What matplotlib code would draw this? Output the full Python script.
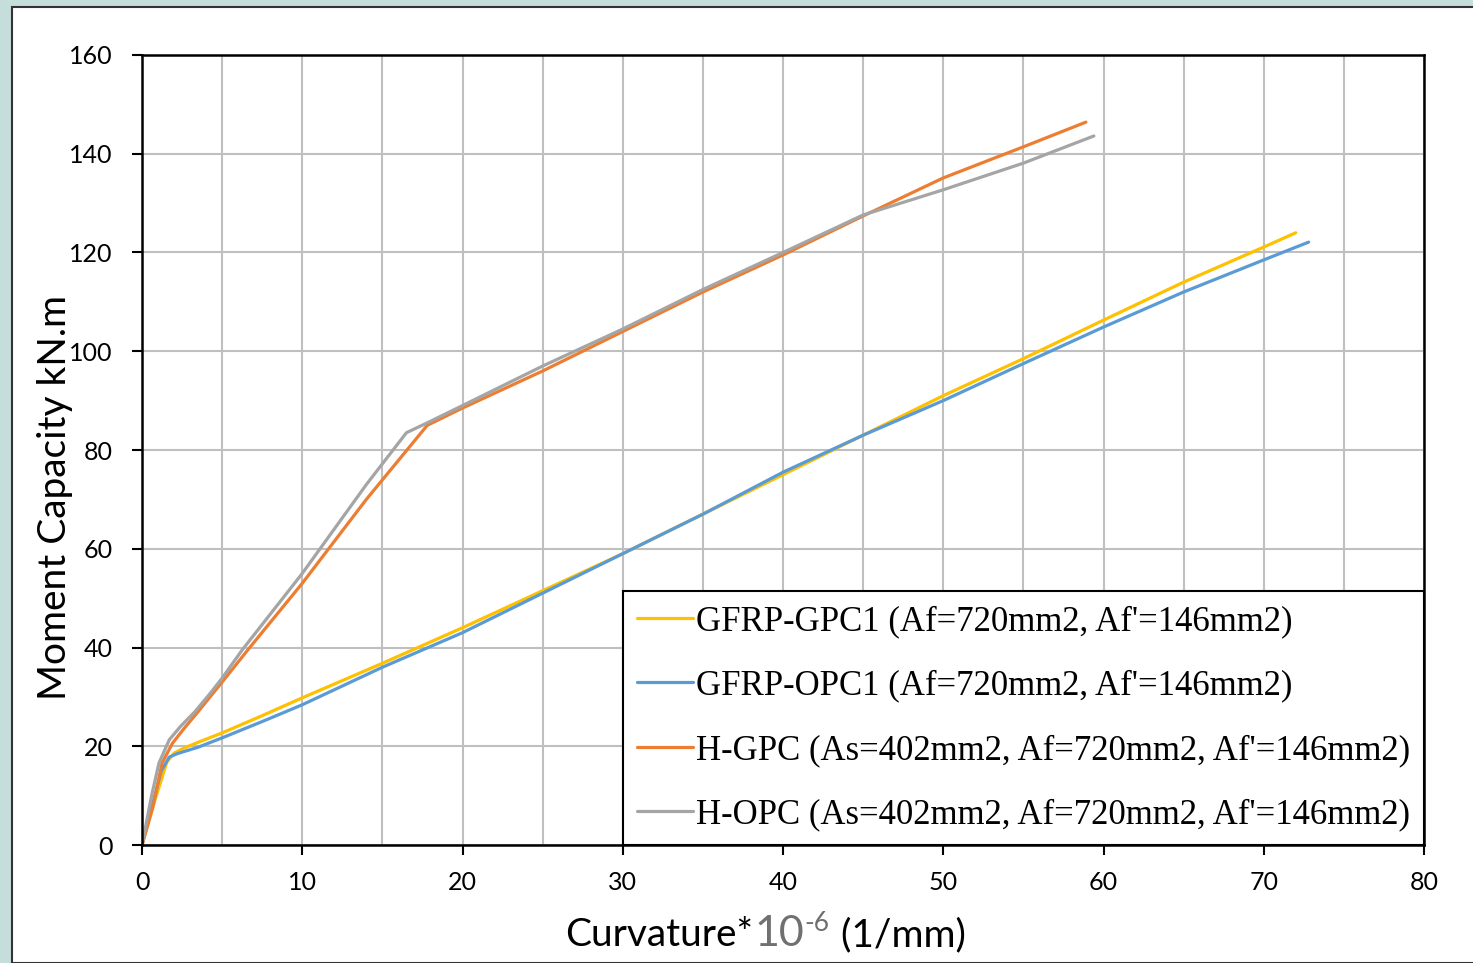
import matplotlib.pyplot as plt
from matplotlib.patches import Rectangle

# curvature (x1e-6 1/mm) vs moment (kN.m)
gpc1_x = [0, 0.8, 1.55, 2.0, 2.6, 3.5, 5, 7.5, 10, 15, 20, 25, 30, 35, 40, 45, 50, 55, 60, 65, 70, 72]
gpc1_y = [0, 9, 16.8, 18.6, 19.6, 20.8, 22.7, 26.2, 29.8, 36.8, 44, 51.5, 59, 67, 75, 83, 91, 98.5, 106.3, 114, 121.1, 124]

opc1_x = [0, 0.8, 1.2, 1.7, 2.2, 3.5, 5, 7.5, 10, 15, 20, 25, 30, 35, 40, 45, 50, 55, 60, 65, 70, 72.8]
opc1_y = [0, 10, 15, 17.8, 18.5, 19.8, 21.7, 25, 28.4, 36, 43, 51, 59, 67, 75.5, 83, 90, 97.5, 104.9, 112, 118.5, 122.1]

hgpc_x = [0, 0.7, 1.25, 1.9, 2.6, 3.5, 5, 6.6, 10, 14, 17.8, 20, 25, 30, 35, 40, 45, 50, 55, 58.9]
hgpc_y = [0, 8, 16.6, 20.6, 23.5, 27, 33, 39.5, 53, 70, 85, 88.5, 96, 104, 112, 119.5, 127.4, 135.1, 141.4, 146.4]

hopc_x = [0, 0.6, 1.06, 1.7, 2.4, 3.3, 4.2, 5, 6.25, 10, 14, 16.5, 17.8, 20, 25, 30, 35, 40, 45, 50, 55, 59.4]
hopc_y = [0, 10, 16.6, 21.3, 24, 27, 30.5, 33.8, 39.5, 55, 73, 83.5, 85.5, 89, 97, 104.5, 112.5, 120, 127.6, 132.7, 138.1, 143.6]

labels = ["GFRP-GPC1 (Af=720mm2, Af'=146mm2)",
          "GFRP-OPC1 (Af=720mm2, Af'=146mm2)",
          "H-GPC (As=402mm2, Af=720mm2, Af'=146mm2)",
          "H-OPC (As=402mm2, Af=720mm2, Af'=146mm2)"]
colors = ['#FFC000', '#5B9BD5', '#ED7D31', '#A5A5A5']

plt.rcParams['font.family'] = ['Lato', 'DejaVu Sans']

fig = plt.figure(figsize=(14.73, 9.63), dpi=100)
fig.patch.set_facecolor('#C5DDDB')
W, H = 1473, 963
fig.patches.append(Rectangle((12 / W, 0), 1.0, 1 - 7 / H, transform=fig.transFigure,
                             facecolor='white', edgecolor='#333333', linewidth=1.5))

ax = fig.add_axes([142 / W, 1 - 845 / H, (1424 - 142) / W, (845 - 55) / H])
ax.set_zorder(2)

for xs, ys, c, lab in zip([gpc1_x, opc1_x, hgpc_x, hopc_x],
                          [gpc1_y, opc1_y, hgpc_y, hopc_y], colors, labels):
    ax.plot(xs, ys, color=c, linewidth=2.3, label=lab, solid_capstyle='round')

ax.set_xlim(0, 80)
ax.set_ylim(0, 160)
ax.set_xticks(range(0, 81, 10))
ax.set_yticks(range(0, 161, 20))
ax.set_xticks(range(5, 80, 10), minor=True)
ax.tick_params(which='minor', length=0)
ax.tick_params(which='major', direction='out', length=7, width=1.5, labelsize=18)
ax.tick_params(axis='y', pad=14)
ax.tick_params(axis='x', pad=12)
ax.grid(True, which='both', color='#BFBFBF', linewidth=1.5)
ax.set_axisbelow(True)
for s in ax.spines.values():
    s.set_linewidth(1.8)
    s.set_color('black')

ax.set_ylabel('Moment Capacity kN.m', fontsize=28)
ax.yaxis.set_label_coords(-0.054, 0.44)

leg = ax.legend(loc='lower right', bbox_to_anchor=(1.0, 0.0), fancybox=False,
                framealpha=1, edgecolor='black', borderaxespad=0,
                prop={'family': 'Liberation Serif', 'size': 25},
                handlelength=1.6, handletextpad=0.1, labelspacing=0.9,
                borderpad=0.4)
leg.get_frame().set_linewidth(1.5)

# x label in pieces: the "10^-6" part is grey in the original
fig.canvas.draw()
r = fig.canvas.get_renderer()
y0 = 1 - 946 / H
x = 565 / W
parts = [('Curvature*', 'black', 28, 0), ('10', '#707070', 31, 0), ('-6', '#707070', 19, 15),
         (' (1/mm)', 'black', 28, 0)]
for txt, col, fs, dy in parts:
    t = fig.text(x, y0 + dy / H, txt, color=col, fontsize=fs, ha='left', va='baseline')
    bb = t.get_window_extent(renderer=r)
    x += (bb.width + 1) / W

fig.savefig('out.png', dpi=100)
